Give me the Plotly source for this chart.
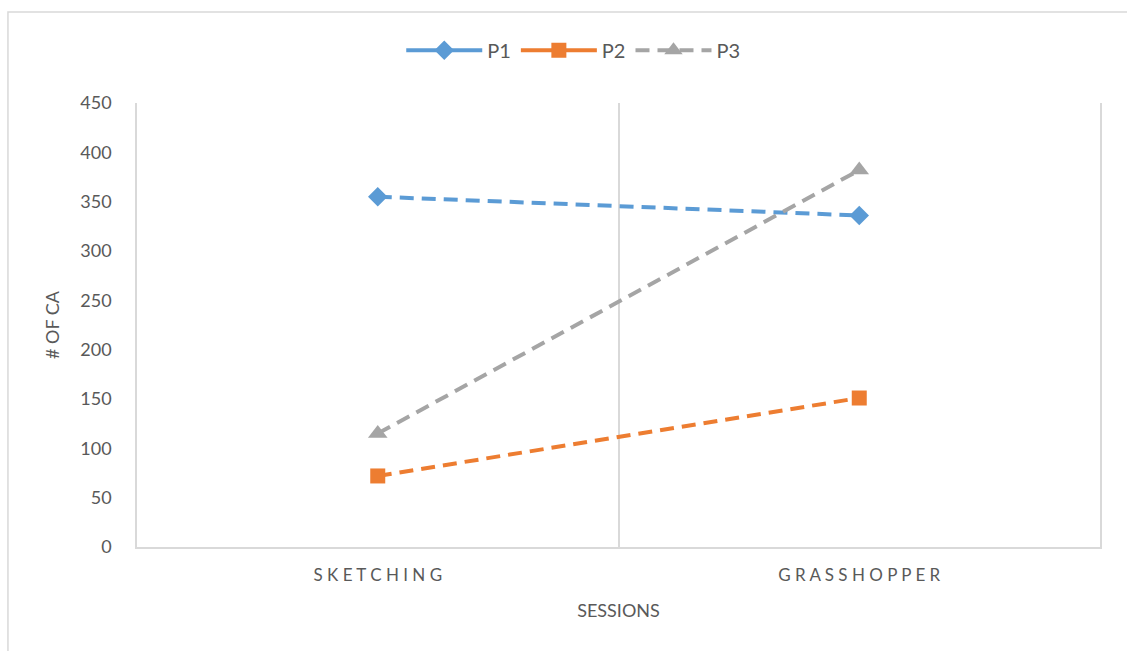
import plotly.graph_objects as go

# Sessions on the category axis and counts per participant
sessions = ["SKETCHING", "GRASSHOPPER"]
p1_values = [355, 336]
p2_values = [72, 151]
p3_values = [115, 382]
y_ticks = [0, 50, 100, 150, 200, 250, 300, 350, 400, 450]

FONT = "Lato, 'Noto Sans', sans-serif"
TEXT = "#595959"
AXIS = "#D9D9D9"

series = [
    ("P1", p1_values, "#5B9BD5", "diamond", 15, "solid"),
    ("P2", p2_values, "#ED7D31", "square", 15, "solid"),
    ("P3", p3_values, "#A5A5A5", "triangle-up", 17, "14px,8px"),
]


def spaced(label):
    return " ".join(label)


fig = go.Figure()

for name, vals, color, symbol, size, legend_dash in series:
    # plotted series (dashed connecting line)
    fig.add_trace(go.Scatter(
        x=sessions, y=vals, mode="lines+markers", name=name,
        showlegend=False,
        line=dict(color=color, width=4, dash="14px,8px"),
        marker=dict(symbol=symbol, size=size, color=color, line=dict(width=0)),
    ))
    # legend entry
    fig.add_trace(go.Scatter(
        x=[None], y=[None], mode="lines+markers", name=name,
        line=dict(color=color, width=4, dash=legend_dash),
        marker=dict(symbol=symbol, size=size, color=color, line=dict(width=0)),
    ))

fig.update_layout(
    width=1127, height=651,
    margin=dict(l=137, r=27, t=103, b=104),
    paper_bgcolor="white", plot_bgcolor="white",
    font=dict(family=FONT, size=18, color=TEXT),
    showlegend=True,
    legend=dict(
        orientation="h", xref="paper", x=0.453, xanchor="center",
        y=1.119, yanchor="middle", font=dict(size=20, color=TEXT),
        itemwidth=76, tracegroupgap=0, bgcolor="rgba(0,0,0,0)",
    ),
    xaxis=dict(
        type="category", categoryorder="array", categoryarray=sessions,
        tickvals=sessions, ticktext=[spaced(s) for s in sessions],
        tickson="boundaries", range=[-0.5, 1.5],
        showgrid=True, gridcolor=AXIS, gridwidth=1.5,
        showline=True, linecolor=AXIS, linewidth=1.5,
        ticks="", ticklabelstandoff=12,
        tickfont=dict(size=17, color=TEXT),
        title=dict(text="SESSIONS", font=dict(size=18, color=TEXT), standoff=20),
        zeroline=False, fixedrange=True,
    ),
    yaxis=dict(
        range=[0, 450], tickvals=y_ticks,
        showgrid=False, zeroline=False,
        showline=True, mirror=True, linecolor=AXIS, linewidth=1.5,
        ticks="", ticklabelstandoff=20,
        tickfont=dict(size=18, color=TEXT),
        title=dict(text="# OF CA", font=dict(size=18, color=TEXT), standoff=16),
        fixedrange=True,
    ),
    shapes=[dict(
        type="rect", xref="paper", yref="paper",
        x0=-0.134, x1=1.04, y0=-0.26, y1=1.205,
        line=dict(color=AXIS, width=1.5), fillcolor="rgba(0,0,0,0)", layer="below",
    )],
)

fig.write_html("out.html")
